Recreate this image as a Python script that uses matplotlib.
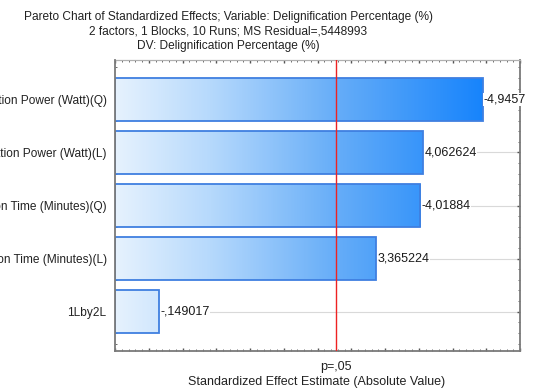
import numpy as np
import matplotlib
matplotlib.use("Agg")
import matplotlib.pyplot as plt
from matplotlib.colors import LinearSegmentedColormap
from matplotlib.ticker import MultipleLocator, NullFormatter
from matplotlib.patches import Rectangle

plt.rcParams['font.family'] = ['Liberation Sans', 'DejaVu Sans']

factors = ["(2)Irradiation Power (Watt)(Q)",
           "(2)Irradiation Power (Watt)(L)",
           "(1)Irradiation Time (Minutes)(Q)",
           "(1)Irradiation Time (Minutes)(L)",
           "1Lby2L"]
effects = [-4.9457, 4.062624, -4.01884, 3.365224, -0.149017]
value_labels = ["-4,9457", "4,062624", "-4,01884", "3,365224", "-,149017"]
p_crit = 2.776445
p_label = "p=,05"
title_lines = ["Pareto Chart of Standardized Effects; Variable: Delignification Percentage (%)",
               "2 factors, 1 Blocks, 10 Runs; MS Residual=,5448993",
               "DV: Delignification Percentage (%)"]
xlabel = "Standardized Effect Estimate (Absolute Value)"

W, H = 535, 390
fig = plt.figure(figsize=(W / 100, H / 100), dpi=100)
ax = fig.add_axes([115 / W, (H - 351) / H, (520 - 115) / W, (351 - 60) / H])

xmin, xmax = -0.5, 5.5
ylim = (len(factors) - 0.26, -0.74)

cmap = LinearSegmentedColormap.from_list(
    "g", [(0.0, "#e6f2fe"), (0.255, "#b6d9fc"), (0.596, "#66adf8"), (1.0, "#1583fc")])
bh = 0.80
ypos = np.arange(len(factors))
for i, e in enumerate(effects):
    v = abs(e)
    ax.axhline(i, color="#d9d9d9", lw=0.8, zorder=0.5)
    grad = np.linspace(xmin, xmax, 600).reshape(1, -1)
    im = ax.imshow(grad, cmap=cmap, vmin=-0.5, vmax=5.0, aspect="auto",
                   extent=(xmin, xmax, i - bh / 2, i + bh / 2), origin="lower", zorder=2,
                   interpolation="bilinear")
    clip = Rectangle((xmin, i - bh / 2), v - xmin, bh, transform=ax.transData)
    im.set_clip_path(clip)
    rect = Rectangle((xmin, i - bh / 2), v - xmin, bh, facecolor="none",
                     edgecolor="#3f7fe0", lw=1.3, zorder=3)
    ax.add_patch(rect)
    ax.text(v + 0.02, i, value_labels[i], va="center", ha="left", fontsize=9,
            color="#1a1a1a", zorder=4,
            bbox=dict(boxstyle="square,pad=0.05", fc="white", ec="none"))

ax.set_xlim(xmin, xmax)
ax.set_ylim(*ylim)

ax.axvline(p_crit, color="#ee2222", lw=1.0, zorder=3.5)

ax.set_yticks(ypos)
ax.set_yticklabels(factors, fontsize=8.6, color="#222222")
ax.yaxis.set_minor_locator(MultipleLocator(0.2))
ax.xaxis.set_major_locator(MultipleLocator(0.5))
ax.xaxis.set_minor_locator(MultipleLocator(0.1))
ax.xaxis.set_major_formatter(NullFormatter())
ax.tick_params(which="both", direction="in", top=True, right=True, colors="#555555")
ax.tick_params(which="major", length=2.5, width=1.0)
ax.tick_params(which="minor", length=1.2, width=0.6)
ax.tick_params(axis="y", which="major", pad=6, labelcolor="#222222")

for s in ax.spines.values():
    s.set_color("#7a7a7a")
    s.set_linewidth(1.3)
ax.spines["top"].set_color("#b0b0b0")
ax.spines["top"].set_linewidth(0.9)
ax.spines["left"].set_zorder(5)

ax.text(p_crit, -0.035, p_label, transform=ax.get_xaxis_transform(), ha="center", va="top",
        fontsize=9, color="#222222")
fig.text(317 / W, 1 - 382 / H, xlabel, ha="center", va="center", fontsize=9, color="#222222")

for line, yy in zip(title_lines, [17, 32, 46]):
    fig.text(228 / W, 1 - yy / H, line, ha="center", va="center", fontsize=8.6, color="#222222")

fig.savefig("out.png", dpi=100)
